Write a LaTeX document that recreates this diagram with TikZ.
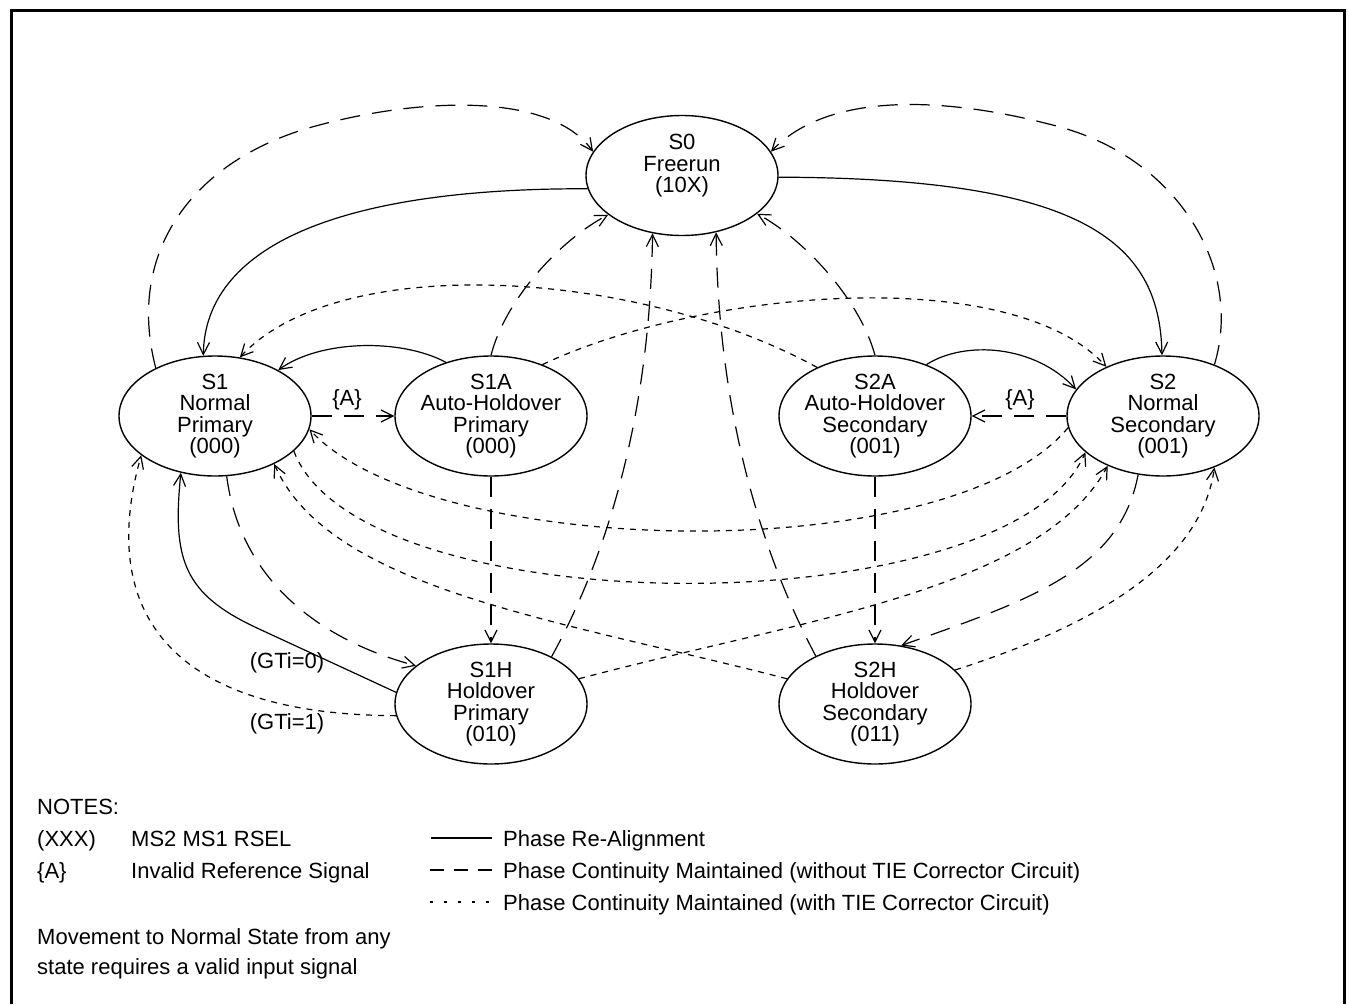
\documentclass[tikz,border=0pt]{standalone}
\usepackage{fontspec}
\setmainfont{Liberation Sans}
\usetikzlibrary{shapes.geometric,arrows.meta}
\begin{document}
\begin{tikzpicture}[x=1pt,y=-1pt,
  stnode/.style={ellipse,draw,line width=1.4pt,minimum width=192pt,minimum height=120pt,inner sep=0pt},
  sttext/.style={align=center,inner sep=0pt,font=\fontsize{22}{21.5}\selectfont},
  lbl/.style={inner sep=0pt,font=\fontsize{22}{26}\selectfont},
  lgt/.style={inner sep=0pt,anchor=base west,font=\fontsize{22}{26}\selectfont},
  conn/.style={line width=1.2pt,-{Straight Barb[length=12pt,width=12pt]}},
  realign/.style={conn},
  notie/.style={conn,dash pattern=on 20pt off 12pt},
  withtie/.style={conn,dash pattern=on 6pt off 6pt},
]
\useasboundingbox (0,0) rectangle (1349,1004);
\draw[line width=3pt] (11,1004) -- (11,10) -- (1344,10) -- (1344,1004);

% states
\node[stnode] (S0) at (682,175.5) {};
\node[sttext] (S0t) at (682,166) {S0\\Freerun\\(10X)};
\node[stnode] (S1) at (215,416) {};
\node[sttext] (S1t) at (215,416) {S1\\Normal\\Primary\\(000)};
\node[stnode] (S1A) at (491,416) {};
\node[sttext] (S1At) at (491,416) {S1A\\Auto-Holdover\\Primary\\(000)};
\node[stnode] (S2A) at (875,416) {};
\node[sttext] (S2At) at (875,416) {S2A\\Auto-Holdover\\Secondary\\(001)};
\node[stnode] (S2) at (1163,416) {};
\node[sttext] (S2t) at (1163,416) {S2\\Normal\\Secondary\\(001)};
\node[stnode] (S1H) at (491,704) {};
\node[sttext] (S1Ht) at (491,704) {S1H\\Holdover\\Primary\\(010)};
\node[stnode] (S2H) at (875,704) {};
\node[sttext] (S2Ht) at (875,704) {S2H\\Holdover\\Secondary\\(011)};

% phase re-alignment (solid)
\draw[realign] (S0.188) .. controls (330,188) and (205,250) .. (S1.101);
\draw[realign] (S0.359) .. controls (1080,178) and (1160,240) .. (S2.91);
\draw[realign] (S1A.130) .. controls (400,338) and (320,340) .. (S1.36);
\draw[realign] (S2A.45) .. controls (965,340) and (1035,345) .. (S2.163);
\draw[realign] (S1H.173) -- (257,628) .. controls (184,594) and (172,560) .. (S1.239);

% phase continuity without TIE (dashed)
\draw[notie] (S1.0) -- (S1A.180);
\draw[notie] (S2.180) -- (S2A.0);
\draw[notie] (S1.141) .. controls (125,250) and (195,160) .. (312,127) .. controls (420,97) and (550,92) .. (S0.165);
\draw[notie] (S2.45) .. controls (1243,270) and (1180,160) .. (1060,127) .. controls (950,97) and (830,90) .. (S0.15);
\draw[notie] (S1A.90) .. controls (505,300) and (560,240) .. (S0.208);
\draw[notie] (S2A.90) .. controls (860,300) and (805,240) .. (S0.333);
\draw[notie] (S1H.38) .. controls (605,560) and (650,420) .. (S0.243);
\draw[notie] (S2H.141) .. controls (765,560) and (718,420) .. (S0.301);
\draw[notie] (S1A.270) -- (S1H.90);
\draw[notie] (S2A.270) -- (S2H.90);
\draw[notie] (S1.281) .. controls (240,580) and (320,640) .. (S1H.153);
\draw[notie] (S2.247) .. controls (1120,570) and (1030,600) .. (S2H.66);

% phase continuity with TIE (dotted)
\draw[withtie] (S2A.140) .. controls (640,270) and (340,250) .. (S1.67);
\draw[withtie] (S1A.45) .. controls (700,290) and (1010,262) .. (S2.139);
\draw[withtie] (S2.187) .. controls (950,570) and (430,560) .. (S1.352);
\draw[withtie] (S1.336) .. controls (360,627) and (1010,627) .. (S2.205);
\draw[withtie] (S2H.164) .. controls (560,620) and (330,590) .. (S1.321);
\draw[withtie] (S1H.16) .. controls (800,620) and (1040,590) .. (S2.222);
\draw[withtie] (S1H.187) .. controls (180,715) and (95,620) .. (S1.208);
\draw[withtie] (S2H.23) .. controls (1080,630) and (1200,570) .. (S2.315);

% edge labels
\node[lbl] (la1) at (347,400) {\{A\}};
\node[lbl] (la2) at (1020,400) {\{A\}};
\node[lbl] (lg0) at (287,663) {(GTi=0)};
\node[lbl] (lg1) at (287,724) {(GTi=1)};

% notes / legend
\node[lgt] (n0) at (37,814) {NOTES:};
\node[lgt] (n1) at (37,846) {(XXX)};
\node[lgt] (n1b) at (131,846) {MS2 MS1 RSEL};
\node[lgt] (n2) at (37,878) {\{A\}};
\node[lgt] (n2b) at (131,878) {Invalid Reference Signal};
\node[lgt] (n3) at (37,944) {Movement to Normal State from any};
\node[lgt] (n4) at (37,974) {state requires a valid input signal};

\coordinate (k1a) at (431,838); \coordinate (k1b) at (492,838);
\coordinate (k2a) at (430,870); \coordinate (k2b) at (492,870);
\coordinate (k3a) at (430,902); \coordinate (k3b) at (492,902);
\draw[line width=1.2pt] (k1a) -- (k1b);
\draw[line width=1.2pt,dash pattern=on 14pt off 10pt] (k2a) -- (k2b);
\draw[line width=1.2pt,dash pattern=on 3pt off 11pt] (k3a) -- (k3b);
\node[lgt] (t1) at (503,846) {Phase Re-Alignment};
\node[lgt] (t2) at (503,878) {Phase Continuity Maintained (without TIE Corrector Circuit)};
\node[lgt] (t3) at (503,910) {Phase Continuity Maintained (with TIE Corrector Circuit)};
\end{tikzpicture}
\end{document}
